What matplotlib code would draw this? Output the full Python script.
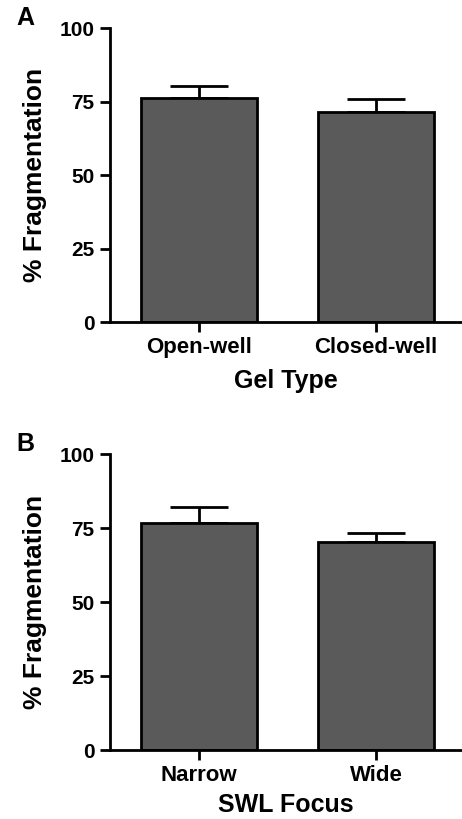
import matplotlib
matplotlib.use("Agg")
import matplotlib.pyplot as plt

plt.rcParams['font.family'] = ['Liberation Sans', 'DejaVu Sans']
plt.rcParams['font.weight'] = 'bold'

# panel A data
gel_types = ["Open-well", "Closed-well"]
gel_means = [76.1, 71.3]
gel_errs = [4.3, 4.4]

# panel B data
focus_types = ["Narrow", "Wide"]
focus_means = [76.7, 70.4]
focus_errs = [5.4, 3.0]

yticks = [0, 25, 50, 75, 100]


def draw_panel(ax, cats, means, errs, xlabel, letter, xpad):
    pos = list(range(len(cats)))
    ax.bar(pos, means, width=0.66, color='#5a5a5a', edgecolor='black', linewidth=2, zorder=2)
    ax.errorbar(pos, means, yerr=[[0] * len(errs), errs], fmt='none', ecolor='black',
                elinewidth=2, capsize=21, capthick=2, zorder=1)
    ax.set_xlim(-0.503, 1.486)
    ax.set_ylim(0, 100)
    ax.set_yticks(yticks)
    ax.set_xticks(pos)
    ax.set_xticklabels(cats, fontsize=16, fontweight='bold')
    ax.set_yticklabels([str(t) for t in yticks], fontsize=15, fontweight='bold')
    ax.spines['top'].set_visible(False)
    ax.spines['right'].set_visible(False)
    ax.spines['left'].set_linewidth(2)
    ax.spines['bottom'].set_linewidth(2)
    ax.spines['left'].set_zorder(3)
    ax.spines['bottom'].set_zorder(3)
    ax.tick_params(axis='both', direction='out', length=7, width=2, pad=4)
    ax.set_ylabel('% Fragmentation', fontsize=19, fontweight='bold', labelpad=9)
    ax.set_xlabel(xlabel, fontsize=18, fontweight='bold', labelpad=xpad)
    ax.text(-0.265, 1.035, letter, transform=ax.transAxes, fontsize=18, fontweight='bold',
            ha='left', va='center')


fig = plt.figure(figsize=(4.62, 8.19), dpi=100)
ax1 = fig.add_axes([0.238, 0.6068, 0.762, 0.359])
ax2 = fig.add_axes([0.238, 0.0842, 0.762, 0.3611])

draw_panel(ax1, gel_types, gel_means, gel_errs, 'Gel Type', 'A', 8)
draw_panel(ax2, focus_types, focus_means, focus_errs, 'SWL Focus', 'B', 5)

fig.savefig('out.png', dpi=100)
